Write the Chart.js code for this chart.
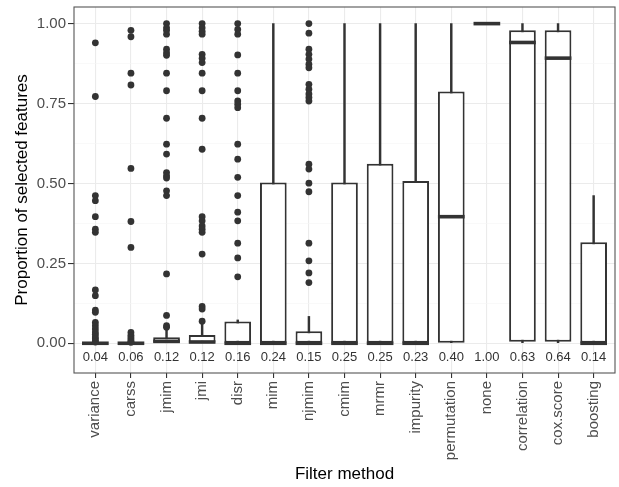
<!DOCTYPE html>
<html>
<head>
<meta charset="utf-8">
<script src="https://cdn.jsdelivr.net/npm/chart.js@4"></script>
<style>
  body { margin: 0; background: #fff; }
  canvas { display: block; }
</style>
</head>
<body>
<canvas id="chart" width="619" height="487"></canvas>
<script>
// filter methods on the x axis
var categories = ['variance', 'carss', 'jmim', 'jmi', 'disr', 'mim', 'njmim', 'cmim', 'mrmr',
    'impurity', 'permutation', 'none', 'correlation', 'cox.score', 'boosting'];

// box statistics
var whiskerLow = [0, 0, 0, 0, 0, 0, 0, 0, 0, 0, 0, 1.0, 0, 0, 0];
var q1 = [0, 0, 0, 0, 0, 0, 0, 0, 0, 0, 0, 1.0, 0.005, 0.005, 0];
var median = [0, 0, 0.006, 0.004, 0, 0, 0, 0, 0, 0, 0.396, 1.0, 0.941, 0.892, 0];
var q3 = [0, 0, 0.019, 0.026, 0.068, 0.503, 0.038, 0.503, 0.562, 0.508, 0.788, 1.0, 0.979, 0.979, 0.316];
var whiskerHigh = [0, 0, 0.045, 0.06, 0.073, 1.0, 0.084, 1.0, 1.0, 1.0, 1.0, 1.0, 1.0, 1.0, 0.462];

// mean labels printed under each box
var means = [0.04, 0.06, 0.12, 0.12, 0.16, 0.24, 0.15, 0.25, 0.25, 0.23, 0.40, 1.00, 0.63, 0.64, 0.14];

// outlying points per method
var outliers = [
    [0.94, 0.772, 0.462, 0.446, 0.396, 0.357, 0.347, 0.167, 0.149, 0.104, 0.097, 0.065, 0.055, 0.045, 0.035, 0.028, 0.02, 0.014, 0.008, 0.004],
    [0.979, 0.959, 0.845, 0.808, 0.547, 0.381, 0.300, 0.034, 0.025, 0.018, 0.012, 0.006, 0.003],
    [1.0, 0.987, 0.979, 0.967, 0.92, 0.909, 0.901, 0.845, 0.79, 0.704, 0.623, 0.592, 0.534, 0.524, 0.517, 0.477, 0.462, 0.217, 0.087, 0.055, 0.05],
    [1.0, 0.987, 0.976, 0.967, 0.904, 0.892, 0.878, 0.845, 0.79, 0.704, 0.607, 0.396, 0.383, 0.367, 0.357, 0.347, 0.279, 0.115, 0.107, 0.069],
    [1.0, 0.982, 0.967, 0.902, 0.845, 0.79, 0.758, 0.748, 0.737, 0.623, 0.576, 0.519, 0.462, 0.41, 0.383, 0.313, 0.267, 0.208],
    [],
    [1.0, 0.97, 0.92, 0.904, 0.889, 0.873, 0.862, 0.81, 0.795, 0.78, 0.769, 0.758, 0.56, 0.545, 0.501, 0.474, 0.313, 0.258, 0.22, 0.19],
    [], [], [], [], [], [], [], []
];

var yTicks = [0, 0.125, 0.25, 0.375, 0.5, 0.625, 0.75, 0.875, 1.0];

var FONT = "'Liberation Sans', Arial, sans-serif";
var DARK = '#333333';

var boxData = categories.map(function (c, i) { return {x: i, y: [q1[i], q3[i]]}; });
var whiskerData = categories.map(function (c, i) { return {x: i, y: [whiskerLow[i], whiskerHigh[i]]}; });
var medianData = categories.map(function (c, i) { return {x: i, y: median[i]}; });
var outlierData = [];
outliers.forEach(function (list, i) {
    list.forEach(function (v) { outlierData.push({x: i, y: v}); });
});

// half of a box width, taken from the x scale
function halfBox(ctx) {
    var x = ctx.chart.scales.x;
    return Math.abs(x.getPixelForValue(1) - x.getPixelForValue(0)) * 0.375;
}

var panelPlugin = {
    id: 'panel',
    afterDatasetsDraw: function (chart) {
        var ctx = chart.ctx, a = chart.chartArea;
        var xs = chart.scales.x, ys = chart.scales.y;
        ctx.save();
        ctx.font = '13px ' + FONT;
        ctx.fillStyle = DARK;
        ctx.textAlign = 'center';
        ctx.textBaseline = 'middle';
        means.forEach(function (m, i) {
            ctx.fillText(m.toFixed(2), xs.getPixelForValue(i), ys.getPixelForValue(-0.045));
        });
        ctx.strokeStyle = '#555';
        ctx.lineWidth = 1.1;
        ctx.strokeRect(a.left, a.top, a.right - a.left, a.bottom - a.top);
        ctx.restore();
    }
};

new Chart(document.getElementById('chart'), {
    type: 'bar',
    data: {
        datasets: [
            {
                type: 'line',
                data: outlierData,
                showLine: false,
                pointRadius: 3.4,
                pointBackgroundColor: DARK,
                pointBorderWidth: 0,
                order: 0
            },
            {
                type: 'line',
                data: medianData,
                showLine: false,
                pointStyle: 'line',
                pointRadius: halfBox,
                pointBorderColor: DARK,
                pointBorderWidth: 3.6,
                order: 1
            },
            {
                data: boxData,
                backgroundColor: '#ffffff',
                borderColor: DARK,
                borderWidth: 2,
                borderSkipped: false,
                barPercentage: 0.75,
                categoryPercentage: 1,
                grouped: false,
                order: 2
            },
            {
                data: whiskerData,
                backgroundColor: DARK,
                barThickness: 1.8,
                grouped: false,
                order: 3
            }
        ]
    },
    options: {
        responsive: false,
        animation: false,
        devicePixelRatio: 1,
        layout: { padding: { top: 7, right: 3, left: 0, bottom: 0 } },
        plugins: {
            legend: { display: false },
            tooltip: { enabled: false }
        },
        scales: {
            x: {
                type: 'linear',
                min: -0.6,
                max: 14.6,
                offset: false,
                afterBuildTicks: function (axis) {
                    axis.ticks = categories.map(function (c, i) { return {value: i}; });
                },
                afterFit: function (axis) {
                    axis.height = 114;
                    axis.paddingLeft = 0;
                    axis.paddingRight = 0;
                },
                ticks: {
                    autoSkip: false,
                    minRotation: 90,
                    maxRotation: 90,
                    padding: 3,
                    color: '#4d4d4d',
                    font: { family: FONT, size: 15 },
                    callback: function (v) { return categories[v]; }
                },
                grid: {
                    offset: false,
                    color: '#ebebeb',
                    lineWidth: 1.1,
                    tickColor: DARK,
                    tickLength: 5
                },
                border: { display: false },
                title: {
                    display: true,
                    text: 'Filter method',
                    color: '#000',
                    font: { family: FONT, size: 17 },
                    padding: { top: 0, bottom: 2 }
                }
            },
            y: {
                min: -0.093,
                max: 1.052,
                afterBuildTicks: function (axis) {
                    axis.ticks = yTicks.map(function (v) { return {value: v}; });
                },
                afterFit: function (axis) {
                    axis.width = 74;
                    axis.paddingTop = 0;
                    axis.paddingBottom = 0;
                },
                ticks: {
                    padding: 2,
                    color: '#4d4d4d',
                    font: { family: FONT, size: 15 },
                    callback: function (v, i) { return i % 2 === 0 ? v.toFixed(2) : ''; }
                },
                grid: {
                    color: function (c) { return c.index % 2 === 0 ? '#ebebeb' : '#f5f5f5'; },
                    lineWidth: function (c) { return c.index % 2 === 0 ? 1.1 : 0.6; },
                    tickColor: function (c) { return c.index % 2 === 0 ? DARK : 'rgba(0,0,0,0)'; },
                    tickLength: 6
                },
                border: { display: false },
                title: {
                    display: true,
                    text: 'Proportion of selected features',
                    color: '#000',
                    font: { family: FONT, size: 17 },
                    padding: { top: 12, bottom: 0 }
                }
            }
        }
    },
    plugins: [panelPlugin]
});
</script>
</body>
</html>
